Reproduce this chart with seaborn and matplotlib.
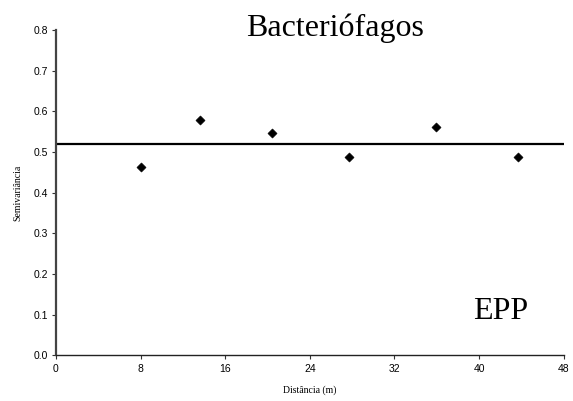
import matplotlib
matplotlib.use("Agg")
import matplotlib.pyplot as plt
import seaborn as sns
import pandas as pd

# semivariograma experimental
distancia = [8.0, 13.6, 20.4, 27.7, 35.9, 43.7]
semivariancia = [0.464, 0.579, 0.547, 0.488, 0.561, 0.488]

# modelo (efeito pepita puro)
modelo_x = [0, 48]
modelo_y = [0.521, 0.521]

x_ticks = [0, 8, 16, 24, 32, 40, 48]
y_ticks = [0.0, 0.1, 0.2, 0.3, 0.4, 0.5, 0.6, 0.7, 0.8]

df = pd.DataFrame({"dist": distancia, "gamma": semivariancia})
df_mod = pd.DataFrame({"dist": modelo_x, "gamma": modelo_y})

sns.set_style("ticks")
plt.rcParams["text.color"] = "black"
plt.rcParams["axes.labelcolor"] = "black"
serif = ["Liberation Serif", "DejaVu Serif"]
sans = ["Liberation Sans", "DejaVu Sans"]

fig = plt.figure(figsize=(5.73, 4.01), dpi=100)
ax = fig.add_axes([0.0977, 0.1135, 0.886, 0.8115])

sns.lineplot(data=df_mod, x="dist", y="gamma", color="black", linewidth=1.6, ax=ax)
sns.scatterplot(data=df, x="dist", y="gamma", marker="D", s=22, color="black",
                edgecolor="black", ax=ax, zorder=3)

ax.set_xlim(0, 48)
ax.set_ylim(0, 0.8)
ax.set_xticks(x_ticks)
ax.set_yticks(y_ticks)
ax.set_xticklabels([str(v) for v in x_ticks], family=sans, fontsize=7.5)
ax.set_yticklabels([f"{v:.1f}" for v in y_ticks], family=sans, fontsize=7.5)
ax.tick_params(length=3, width=0.8, colors="#333333", labelcolor="black", pad=3)

for s in ["top", "right"]:
    ax.spines[s].set_visible(False)
ax.spines["left"].set_color("#444444")
ax.spines["left"].set_linewidth(1.6)
ax.spines["bottom"].set_color("#222222")
ax.spines["bottom"].set_linewidth(1.0)

ax.set_xlabel("Distância (m)", family=serif, fontsize=7, labelpad=8, color="black")
ax.set_ylabel("Semivariância", family=serif, fontsize=7, labelpad=8, color="black")

ax.text(0.55, 1.005, "Bacteriófagos", transform=ax.transAxes, ha="center",
        va="center", family=serif, fontsize=23, color="black")
ax.text(0.875, 0.135, "EPP", transform=ax.transAxes, ha="center",
        va="center", family=serif, fontsize=23, color="black")

fig.savefig("out.png", dpi=100)
